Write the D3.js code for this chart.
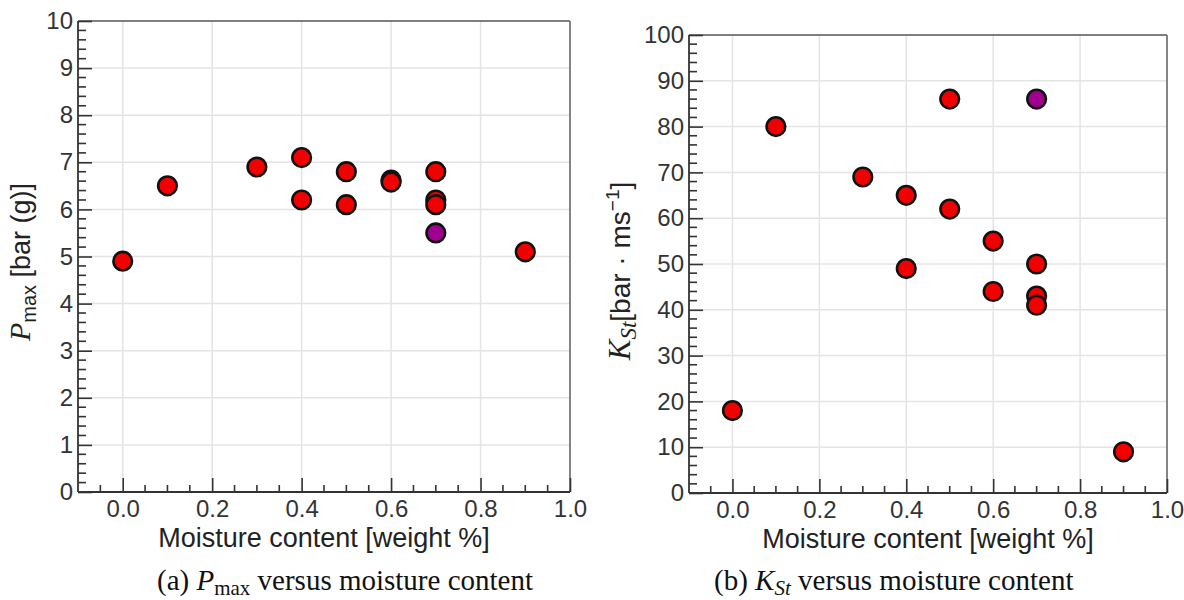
<!DOCTYPE html>
<html>
<head>
<meta charset="utf-8">
<script src="https://cdn.jsdelivr.net/npm/d3@7"></script>
<style>
  html, body { margin: 0; padding: 0; background: #fff; }
  svg { display: block; }
</style>
</head>
<body>
<svg id="chart" width="1184" height="600"></svg>
<script>
// ---------------- data ----------------
const pmaxMoisture = [0.0, 0.1, 0.3, 0.4, 0.4, 0.5, 0.5, 0.6, 0.6, 0.7, 0.7, 0.7, 0.7, 0.9];
const pmaxValues   = [4.9, 6.5, 6.9, 7.1, 6.2, 6.8, 6.1, 6.62, 6.58, 5.5, 6.8, 6.2, 6.1, 5.1];
const pmaxGroup    = ["std","std","std","std","std","std","std","std","std","special","std","std","std","std"];

const kstMoisture  = [0.0, 0.1, 0.3, 0.4, 0.4, 0.5, 0.5, 0.6, 0.6, 0.7, 0.7, 0.7, 0.7, 0.9];
const kstValues    = [18, 80, 69, 65, 49, 86, 62, 55, 44, 86, 50, 43, 41, 9];
const kstGroup     = ["std","std","std","std","std","std","std","std","std","special","std","std","std","std"];

const xMajorTicks  = [0.0, 0.2, 0.4, 0.6, 0.8, 1.0];
const xTickLabels  = ["0.0", "0.2", "0.4", "0.6", "0.8", "1.0"];
const pmaxTicks    = [0,1,2,3,4,5,6,7,8,9,10];
const kstTicks     = [0,10,20,30,40,50,60,70,80,90,100];

const xTitle = "Moisture content [weight %]";

const groupColor = { std: "#f20000", special: "#a0008f" };

// ---------------- drawing ----------------
const svg = d3.select("#chart");
const sans = "Liberation Sans, Arial, sans-serif";
const serif = "Liberation Serif, Times New Roman, serif";

function panel(opts) {
  const { left, right, top, bottom, yMax, yMinorStep, yTicks, xs, ys, groups } = opts;
  const g = svg.append("g");
  const x = d3.scaleLinear().domain([-0.1, 1.0]).range([left, right]);
  const y = d3.scaleLinear().domain([0, yMax]).range([bottom, top]);

  // grid
  g.append("g").selectAll("line").data(xMajorTicks.filter(d => d < 1.0)).join("line")
    .attr("x1", d => x(d)).attr("x2", d => x(d))
    .attr("y1", top).attr("y2", bottom)
    .attr("stroke", "#e4e4e4").attr("stroke-width", 1.5);
  g.append("g").selectAll("line").data(yTicks.filter(d => d > 0 && d < yMax)).join("line")
    .attr("x1", left).attr("x2", right)
    .attr("y1", d => y(d)).attr("y2", d => y(d))
    .attr("stroke", "#e4e4e4").attr("stroke-width", 1.5);

  // frame top/right
  g.append("line").attr("x1", left).attr("x2", right).attr("y1", top).attr("y2", top)
    .attr("stroke", "#555").attr("stroke-width", 1.6);
  g.append("line").attr("x1", right).attr("x2", right).attr("y1", top).attr("y2", bottom)
    .attr("stroke", "#666").attr("stroke-width", 1.6);

  // x axis (ticks inward)
  const xMinor = d3.range(-0.05, 1.0001, 0.05).filter(v => Math.abs(Math.round(v * 5) - v * 5) > 1e-6);
  const xAxisMajor = d3.axisBottom(x).tickValues(xMajorTicks)
    .tickSize(-14).tickPadding(10).tickFormat((d, i) => xTickLabels[i]);
  const gx = g.append("g").attr("transform", `translate(0,${bottom})`).call(xAxisMajor);
  gx.select(".domain").remove();
  gx.append("g").selectAll("line").data(xMinor).join("line")
    .attr("x1", d => x(d)).attr("x2", d => x(d)).attr("y1", 0).attr("y2", -7)
    .attr("stroke", "#333").attr("stroke-width", 1.6);
  gx.selectAll(".tick line").attr("stroke", "#333").attr("stroke-width", 1.6);
  gx.selectAll(".tick text").attr("font-family", sans)
    .attr("font-size", 24).attr("fill", "#333").attr("dy", "0.71em").attr("y", 8);

  // y axis (ticks inward)
  const yMinor = d3.range(0, yMax + 1e-9, yMinorStep).filter(v => !yTicks.some(t => Math.abs(t - v) < 1e-6));
  const yAxis = d3.axisLeft(y).tickValues(yTicks).tickSize(-14).tickPadding(6);
  const gy = g.append("g").attr("transform", `translate(${left},0)`).call(yAxis);
  gy.select(".domain").remove();
  gy.append("g").selectAll("line").data(yMinor).join("line")
    .attr("y1", d => y(d)).attr("y2", d => y(d)).attr("x1", 0).attr("x2", 8)
    .attr("stroke", "#333").attr("stroke-width", 1.6);
  gy.selectAll(".tick line").attr("stroke", "#333").attr("stroke-width", 1.6);
  gy.selectAll(".tick text").attr("font-family", sans)
    .attr("font-size", 24).attr("fill", "#333").attr("x", -5);

  // axis lines left/bottom
  g.append("line").attr("x1", left).attr("x2", left).attr("y1", top).attr("y2", bottom)
    .attr("stroke", "#333").attr("stroke-width", 1.8);
  g.append("line").attr("x1", left).attr("x2", right).attr("y1", bottom).attr("y2", bottom)
    .attr("stroke", "#333").attr("stroke-width", 1.8);

  // points
  g.append("g").selectAll("circle").data(xs.map((d, i) => i)).join("circle")
    .attr("cx", i => x(xs[i])).attr("cy", i => y(ys[i])).attr("r", 9.3)
    .attr("fill", i => groupColor[groups[i]])
    .attr("stroke", "#111").attr("stroke-width", 2.6);

  // x title
  g.append("text").attr("x", (left + right) / 2).attr("y", bottom + 55)
    .attr("text-anchor", "middle")
    .attr("font-family", sans)
    .attr("font-size", 27).attr("fill", "#222").text(xTitle);

  return g;
}

panel({ left: 78, right: 570, top: 21, bottom: 492, yMax: 10, yMinorStep: 0.2,
  yTicks: pmaxTicks, xs: pmaxMoisture, ys: pmaxValues, groups: pmaxGroup });
panel({ left: 689, right: 1167, top: 35, bottom: 493, yMax: 100, yMinorStep: 2,
  yTicks: kstTicks, xs: kstMoisture, ys: kstValues, groups: kstGroup });

// y titles
const tA = svg.append("text").attr("transform", "translate(30,262) rotate(-90)")
  .attr("text-anchor", "middle").attr("font-family", sans).attr("font-size", 27).attr("fill", "#222");
tA.append("tspan").attr("font-family", serif).attr("font-style", "italic").attr("font-size", 30).text("P");
tA.append("tspan").attr("font-size", 20).attr("dy", 6).text("max");
tA.append("tspan").attr("dy", -6).text(" [bar (g)]");

const tB = svg.append("text").attr("transform", "translate(630,271) rotate(-90)")
  .attr("text-anchor", "middle").attr("font-family", sans).attr("font-size", 28).attr("fill", "#222");
tB.append("tspan").attr("font-family", serif).attr("font-style", "italic").attr("font-size", 31).text("K");
tB.append("tspan").attr("font-family", serif).attr("font-style", "italic").attr("font-size", 23).attr("dy", 6).text("St");
tB.append("tspan").attr("dy", -6).text("[bar · ms");
tB.append("tspan").attr("font-size", 19).attr("dy", -11).text("−1");
tB.append("tspan").attr("dy", 11).text("]");

// captions
const cA = svg.append("text").attr("x", 157).attr("y", 590)
  .attr("font-family", serif).attr("font-size", 29).attr("fill", "#111");
cA.append("tspan").text("(a) ");
cA.append("tspan").attr("font-style", "italic").text("P");
cA.append("tspan").attr("font-size", 21).attr("dy", 5).text("max");
cA.append("tspan").attr("dy", -5).text(" versus moisture content");

const cB = svg.append("text").attr("x", 714).attr("y", 590)
  .attr("font-family", serif).attr("font-size", 29).attr("fill", "#111");
cB.append("tspan").text("(b) ");
cB.append("tspan").attr("font-style", "italic").text("K");
cB.append("tspan").attr("font-style", "italic").attr("font-size", 21).attr("dy", 5).text("St");
cB.append("tspan").attr("dy", -5).text(" versus moisture content");
</script>
</body>
</html>
